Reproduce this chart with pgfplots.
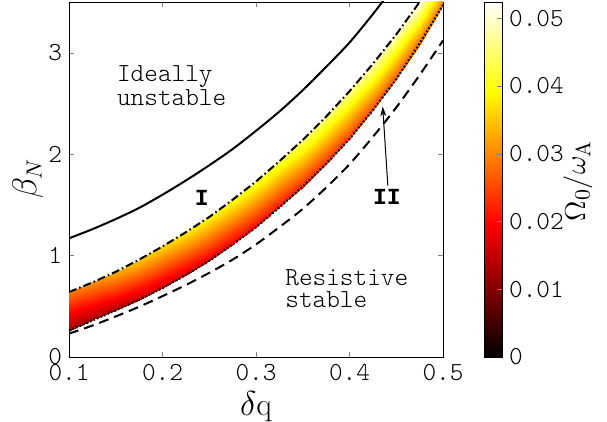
\documentclass[border=0pt]{standalone}
\usepackage{fontspec}
\usepackage{pgfplots}
\pgfplotsset{compat=1.18}
\usetikzlibrary{arrows.meta}
\newfontfamily\mono{Liberation Mono}
\newfontfamily\lmlight{Latin Modern Mono Light}
\newcommand\tfont{\fontsize{13}{11}\selectfont\lmlight}

\pgfplotsset{colormap={hotm}{rgb(0cm)=(0,0,0) rgb(3cm)=(1,0,0) rgb(6cm)=(1,1,0) rgb(8cm)=(1,1,1)}}

% band between the two stability limits, coloured by Omega_0/omega_A
\pgfplotstableread{
x     y     c
0.100 0.26  0.012
0.125 0.36  0.013
0.150 0.46  0.014
0.175 0.565 0.015
0.200 0.68  0.016
0.225 0.81  0.017
0.250 0.95  0.018
0.275 1.11  0.019
0.300 1.28  0.020
0.325 1.475 0.021
0.350 1.68  0.022
0.375 1.905 0.023
0.400 2.15  0.024
0.425 2.435 0.025
0.450 2.74  0.026
0.475 3.09  0.027
0.500 3.47  0.028

0.100 0.64  0.029
0.125 0.735 0.031
0.150 0.84  0.033
0.175 0.96  0.035
0.200 1.09  0.0365
0.225 1.23  0.038
0.250 1.38  0.039
0.275 1.55  0.040
0.300 1.73  0.041
0.325 1.93  0.0425
0.350 2.14  0.044
0.375 2.37  0.045
0.400 2.62  0.0465
0.425 2.89  0.048
0.450 3.18  0.049
0.475 3.50  0.051
0.500 3.83  0.0524
}\band

\begin{document}
\begin{tikzpicture}
\useasboundingbox (-34.5pt,-32.5pt) rectangle (269pt,178.5pt);
\begin{axis}[
    scale only axis,
    width=187pt, height=177.5pt,
    xmin=0.1, xmax=0.5, ymin=0, ymax=3.5,
    xtick={0.1,0.2,0.3,0.4,0.5},
    ytick={0,1,2,3},
    tick align=inside,
    major tick length=2.5pt,
    ticklabel style={font=\tfont},
    /pgf/number format/assume math mode=true,
    xticklabel style={/pgf/number format/fixed, /pgf/number format/precision=1},
    xlabel={$\delta\mathrm{q}$},
    ylabel={$\beta_N$},
    label style={font=\fontsize{16}{18}\selectfont},
    xlabel style={at={(axis description cs:0.5,-0.141)}, anchor=center},
    ylabel style={at={(axis description cs:-0.11,0.504)}, anchor=center},
    colormap name=hotm,
    point meta min=0, point meta max=0.0524,
    colorbar,
    colorbar style={
        width=9pt,
        at={(parent axis.north east)}, anchor=north west, xshift=12pt,
        ytick={0,0.01,0.02,0.03,0.04,0.05},
        scaled y ticks=false,
        ytick pos=right,
        tick align=inside,
        major tick length=2.5pt,
        yticklabel style={font=\tfont, /pgf/number format/fixed,
            /pgf/number format/precision=2,
            /pgf/number format/assume math mode=true},
    },
    clip=true,
]
\addplot[surf, shader=interp, mesh/rows=2, point meta=explicit]
    table[x=x, y=y, meta=c] {\band};

% ideal-wall limit
\addplot[black, line width=1pt, smooth] coordinates {
(0.100,1.17) (0.125,1.26) (0.150,1.36) (0.175,1.47) (0.200,1.60)
(0.225,1.74) (0.250,1.89) (0.275,2.05) (0.300,2.23) (0.325,2.42)
(0.350,2.63) (0.375,2.86) (0.400,3.10) (0.425,3.38) (0.450,3.68)};

% upper limit of band (I)
\addplot[black, line width=1pt, dash pattern=on 4pt off 1.5pt on 0.8pt off 1.5pt] coordinates {
(0.100,0.64) (0.125,0.735) (0.150,0.84) (0.175,0.96) (0.200,1.09)
(0.225,1.23) (0.250,1.38) (0.275,1.55) (0.300,1.73) (0.325,1.93)
(0.350,2.14) (0.375,2.37) (0.400,2.62) (0.425,2.89) (0.450,3.18)
(0.475,3.50) (0.500,3.83)};

% lower limit of band (II)
\addplot[black, line width=1.1pt, dash pattern=on 0.8pt off 1.1pt] coordinates {
(0.100,0.26) (0.125,0.36) (0.150,0.46) (0.175,0.565) (0.200,0.68)
(0.225,0.81) (0.250,0.95) (0.275,1.11) (0.300,1.28) (0.325,1.475)
(0.350,1.68) (0.375,1.905) (0.400,2.15) (0.425,2.435) (0.450,2.74)
(0.475,3.09) (0.500,3.47)};

% resistive limit
\addplot[black, line width=1pt, dash pattern=on 5pt off 3pt, smooth] coordinates {
(0.100,0.23) (0.125,0.31) (0.150,0.40) (0.175,0.495) (0.200,0.60)
(0.225,0.71) (0.250,0.83) (0.275,0.96) (0.300,1.11) (0.325,1.28)
(0.350,1.46) (0.375,1.67) (0.400,1.90) (0.425,2.17) (0.450,2.46)
(0.475,2.78) (0.500,3.12)};

\node[font=\tfont, align=left, anchor=west, inner sep=0pt] at (axis cs:0.151,2.68) {Ideally\\unstable};
\node[font=\tfont, align=left, anchor=west, inner sep=0pt] at (axis cs:0.331,0.678) {Resistive\\stable};
\node[font=\fontsize{11.5}{12}\selectfont\mono\bfseries] at (axis cs:0.242,1.57) {I};
\node[font=\fontsize{11.5}{12}\selectfont\mono\bfseries] at (axis cs:0.44,1.58) {II};
\draw[line width=0.5pt, -{Stealth[length=5pt,width=3pt]}] (axis cs:0.441,1.69) -- (axis cs:0.4355,2.47);
\end{axis}
\node[rotate=90, font=\fontsize{15}{17}\selectfont] at (254.5pt,88pt) {$\Omega_0/\omega_{\mathrm{A}}$};
\end{tikzpicture}
\end{document}
